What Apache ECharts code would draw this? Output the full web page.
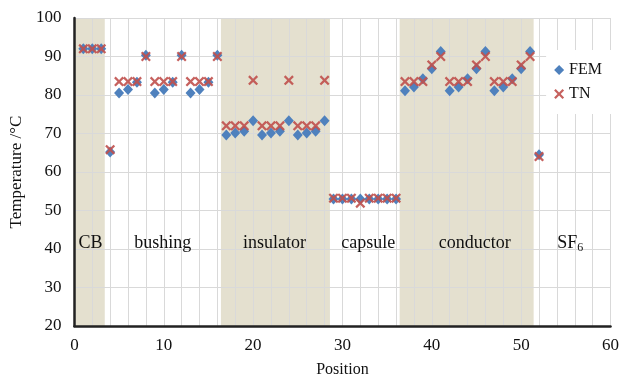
<!DOCTYPE html>
<html>
<head>
<meta charset="utf-8">
<script src="https://cdn.jsdelivr.net/npm/echarts@6/dist/echarts.min.js"></script>
<style>
html,body{margin:0;padding:0;background:#fff;}
#chart{width:622px;height:383px;}
</style>
</head>
<body>
<div id="chart"></div>
<script>
// Positions along the path
var positions = [];
for (var i = 1; i <= 52; i++) positions.push(i);

var femValues = [
  92, 92, 92, 65.2,
  80.5, 81.4, 83.3, 90.3,
  80.5, 81.4, 83.3, 90.3,
  80.5, 81.4, 83.3, 90.3,
  69.6, 70.1, 70.6, 73.3,
  69.6, 70.1, 70.6, 73.3,
  69.6, 70.1, 70.6, 73.3,
  53, 53, 53, 53, 53, 53, 53, 53,
  81.1, 82.1, 84.2, 86.8, 91.3,
  81.1, 82.1, 84.2, 86.8, 91.3,
  81.1, 82.1, 84.2, 86.8, 91.3,
  64.5
];
var tnValues = [
  92, 92, 92, 65.8,
  83.5, 83.5, 83.5, 90,
  83.5, 83.5, 83.5, 90,
  83.5, 83.5, 83.5, 90,
  72, 72, 72, 83.8,
  72, 72, 72, 83.8,
  72, 72, 72, 83.8,
  53.2, 53.2, 53.2, 51.9, 53.2, 53.2, 53.2, 53.2,
  83.5, 83.5, 83.5, 87.8, 90,
  83.5, 83.5, 83.5, 87.8, 90,
  83.5, 83.5, 83.5, 87.8, 90,
  64
];

// Shaded component regions [start, end]
var shadedRegions = [[0, 3.4], [16.4, 28.6], [36.4, 51.4]];

// Component labels: name, x, y
var sectionNames = ['CB', 'bushing', 'insulator', 'capsule', 'conductor', 'SF6'];
var sectionX = [1.8, 9.9, 22.4, 32.9, 44.8, 55.5];
var sectionY = [41.6, 41.6, 41.6, 41.6, 41.6, 41.6];

var xTicks = [0, 10, 20, 30, 40, 50, 60];
var yTicks = [20, 30, 40, 50, 60, 70, 80, 90, 100];

var FONT = 'Liberation Serif';
var chart = echarts.init(document.getElementById('chart'));

var femData = positions.map(function (p, i) { return [p, femValues[i]]; });
var tnData = positions.map(function (p, i) { return [p, tnValues[i]]; });
var labelData = sectionNames.map(function (n, i) { return [sectionX[i], sectionY[i], n]; });

var xPath = 'path://M0,1.6L1.6,0L5,3.4L8.4,0L10,1.6L6.6,5L10,8.4L8.4,10L5,6.6L1.6,10L0,8.4L3.4,5Z';

chart.setOption({
  animation: false,
  grid: { left: 72, right: 10, top: 18, bottom: 56 },
  legend: {
    orient: 'vertical',
    right: 10,
    top: 50,
    backgroundColor: '#ffffff',
    padding: [12, 10, 12, 8],
    itemGap: 8,
    itemWidth: 10,
    itemHeight: 10,
    textStyle: { fontFamily: FONT, fontSize: 16, color: '#111' },
    data: ['FEM', 'TN']
  },
  xAxis: {
    type: 'value',
    min: 0, max: 60, interval: 10,
    name: 'Position',
    nameLocation: 'middle',
    nameGap: 36,
    nameTextStyle: { fontFamily: FONT, fontSize: 16, color: '#111' },
    axisLine: { show: true, onZero: false, lineStyle: { color: '#222', width: 2.5 } },
    axisTick: { show: false },
    minorTick: { show: false, splitNumber: 5 },
    axisLabel: { fontFamily: FONT, fontSize: 17, color: '#111', margin: 11,
      formatter: function (v) { return xTicks.indexOf(v) >= 0 ? String(v) : ''; } },
    splitLine: { show: true, lineStyle: { color: '#d9d9d9', width: 1 } },
    minorSplitLine: { show: true, lineStyle: { color: '#d9d9d9', width: 1 } }
  },
  yAxis: {
    type: 'value',
    min: 20, max: 100, interval: 10,
    name: 'Temperature /°C',
    nameLocation: 'middle',
    nameGap: 42,
    nameTextStyle: { fontFamily: FONT, fontSize: 17, color: '#111' },
    axisLine: { show: true, lineStyle: { color: '#222', width: 2.5 } },
    axisTick: { show: false },
    axisLabel: { fontFamily: FONT, fontSize: 17, color: '#111', margin: 13,
      formatter: function (v) { return yTicks.indexOf(v) >= 0 ? String(v) : ''; } },
    splitLine: { show: true, lineStyle: { color: '#d9d9d9', width: 1 } }
  },
  series: [
    {
      name: 'regions',
      type: 'scatter',
      data: [],
      z: -1,
      silent: true,
      markArea: {
        silent: true,
        z: -1,
        itemStyle: { color: 'rgba(205,198,168,0.55)' },
        data: shadedRegions.map(function (r) { return [{ xAxis: r[0] }, { xAxis: r[1] }]; })
      }
    },
    {
      name: 'labels',
      type: 'scatter',
      symbolSize: 0,
      silent: true,
      itemStyle: { opacity: 1 },
      data: labelData,
      label: {
        show: true,
        position: 'inside',
        fontFamily: FONT,
        fontSize: 18,
        color: '#111',
        formatter: function (p) {
          if (p.data[2] === 'SF6') return '{a|SF}{s|6}';
          return '{a|' + p.data[2] + '}';
        },
        rich: {
          a: { fontFamily: FONT, fontSize: 18, color: '#111' },
          s: { fontFamily: FONT, fontSize: 12, color: '#111', padding: [11, 0, 0, 0] }
        }
      }
    },
    {
      name: 'FEM',
      type: 'scatter',
      symbol: 'diamond',
      symbolSize: [10, 11],
      itemStyle: { color: '#4f81bd', opacity: 1 },
      data: femData,
      z: 3
    },
    {
      name: 'TN',
      type: 'scatter',
      symbol: xPath,
      symbolSize: 10,
      itemStyle: { color: '#c0504d', opacity: 0.9 },
      data: tnData,
      z: 4
    }
  ]
});
</script>
</body>
</html>
